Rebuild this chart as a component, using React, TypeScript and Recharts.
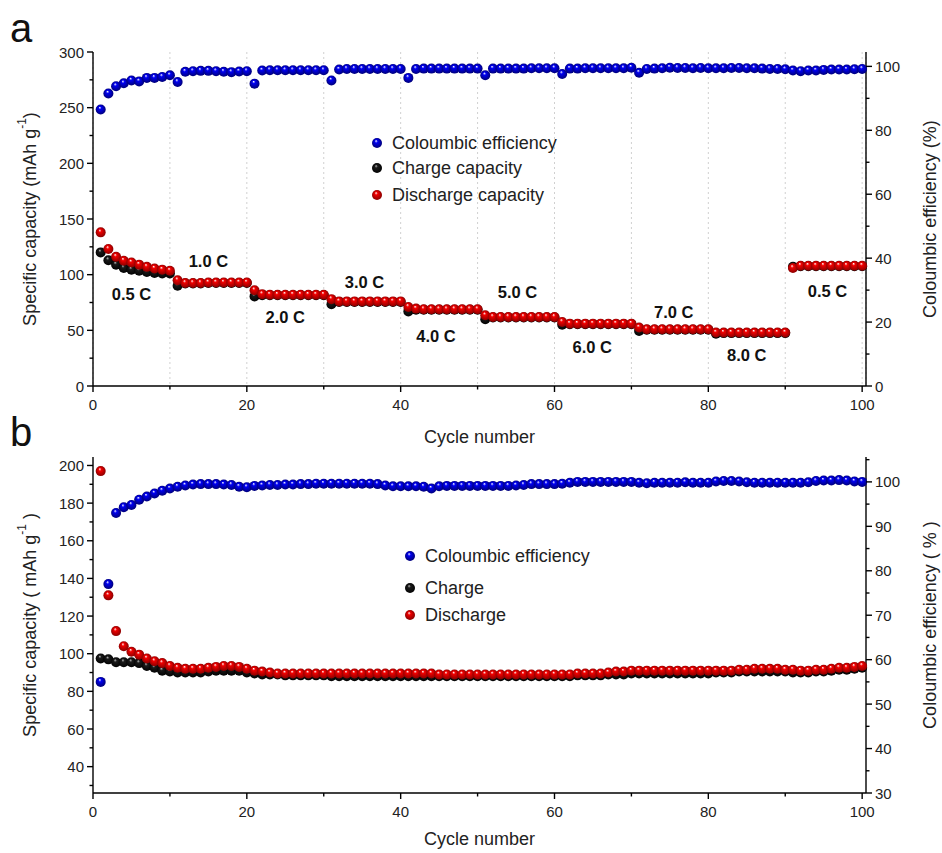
import React from 'react';
import { ScatterChart, Scatter, XAxis, YAxis, CartesianGrid, Label } from 'recharts';

// cycle numbers 1..100
const cycles = Array.from({ length: 100 }, (_, i) => i + 1);

// panel a - rate capability
const chargeA = [
  120, 113, 109, 106, 104.5, 103.5, 102.5, 101.5, 101, 101,
  90, 92, 92, 92, 92.5, 92.5, 92.5, 92.5, 92.5, 92.5,
  80.5, 81.5, 81.5, 81.5, 81.5, 81.5, 81.5, 81.5, 81.5, 81.5,
  73.5, 75.5, 75.5, 75.5, 75.5, 75.5, 75.5, 75.5, 75.5, 75.5,
  67, 68.5, 68.5, 68.5, 68.5, 68.5, 68.5, 68.5, 68.5, 68.5,
  60, 61.5, 61.5, 61.5, 61.5, 61.5, 61.5, 61.5, 61.5, 61.5,
  55, 55.5, 55.5, 55.5, 55.5, 55.5, 55.5, 55.5, 55.5, 55.5,
  49.5, 50.5, 50.5, 50.5, 50.5, 50.5, 50.5, 50.5, 50.5, 50.5,
  47, 47.5, 47.5, 47.5, 47.5, 47.5, 47.5, 47.5, 47.5, 47.5,
  107, 107.5, 107.5, 107.5, 107.5, 107.5, 107.5, 107.5, 107.5, 107.5,
];
const dischargeA = [
  138, 123, 116, 112.5, 111, 109, 107, 105.5, 104.5, 103.5,
  95, 92.5, 92.5, 92.5, 93, 93, 93, 93, 93, 93,
  86, 82.5, 82, 82, 82, 82, 82, 82, 82, 82,
  78, 76, 76, 76, 76, 76, 76, 76, 76, 76,
  71, 69.5, 69, 69, 69, 69, 69, 69, 69, 69,
  63.5, 62, 62, 62, 62, 62, 62, 62, 62, 62,
  57.5, 56, 56, 56, 56, 56, 56, 56, 56, 56,
  52.5, 51, 51, 51, 51, 51, 51, 51, 51, 51,
  48, 48, 48, 48, 48, 48, 48, 48, 48, 48,
  106, 108, 108, 108, 108, 108, 108, 108, 108, 108,
];
const ceA = [
  86.5, 91.5, 93.8, 94.7, 95.6, 95.3, 96.4, 96.4, 96.7, 97.2,
  95.1, 98.3, 98.5, 98.6, 98.6, 98.5, 98.3, 98.2, 98.4, 98.5,
  94.6, 98.7, 98.8, 98.8, 98.8, 98.8, 98.8, 98.8, 98.8, 98.8,
  95.6, 99.0, 99.2, 99.2, 99.2, 99.2, 99.2, 99.2, 99.2, 99.2,
  96.4, 99.2, 99.3, 99.3, 99.3, 99.3, 99.3, 99.3, 99.3, 99.3,
  97.2, 99.3, 99.3, 99.3, 99.3, 99.3, 99.4, 99.4, 99.4, 99.4,
  97.6, 99.3, 99.3, 99.4, 99.4, 99.4, 99.4, 99.4, 99.4, 99.6,
  98.0, 99.2, 99.3, 99.4, 99.6, 99.5, 99.5, 99.4, 99.5, 99.4,
  99.4, 99.4, 99.5, 99.5, 99.4, 99.4, 99.3, 99.2, 99.2, 99.1,
  98.7, 98.5, 98.7, 98.7, 98.9, 99.0, 99.0, 99.0, 99.1, 99.2,
];
const rateLabels = [
  { cycle: 5, cap: 83, text: '0.5 C' },
  { cycle: 15, cap: 112, text: '1.0 C' },
  { cycle: 25, cap: 62, text: '2.0 C' },
  { cycle: 35.3, cap: 93, text: '3.0 C' },
  { cycle: 44.6, cap: 44.5, text: '4.0 C' },
  { cycle: 55.2, cap: 84, text: '5.0 C' },
  { cycle: 64.9, cap: 35, text: '6.0 C' },
  { cycle: 75.5, cap: 66.5, text: '7.0 C' },
  { cycle: 85, cap: 28, text: '8.0 C' },
  { cycle: 95.5, cap: 85, text: '0.5 C' },
];

// panel b - long cycling
const chargeB = [
  97.5, 97, 95.5, 95.5, 95.5, 95, 93.5, 92.5, 91, 90.5,
  90, 90, 90, 90, 90.5, 91, 91, 91, 91, 90,
  89.5, 89, 89, 89, 88.5, 88.5, 88.5, 88.5, 88.5, 88.5,
  88, 88, 88, 88, 88, 88, 88, 88, 88, 88,
  88, 88, 88, 88, 88, 88, 88, 88, 88, 88,
  88, 88, 88, 88, 88, 88, 88, 88, 88, 88,
  88, 88, 88.5, 88.5, 88.5, 88.5, 89, 89, 89, 89.5,
  89.5, 89.5, 89.5, 89.5, 89.5, 89.5, 89.5, 89.5, 89.5, 89.5,
  90, 90, 90, 90.5, 90.5, 90.5, 90.5, 90.5, 90.5, 90.5,
  90, 90, 90, 90.5, 90.5, 91, 91.5, 91.5, 92, 92.5,
];
const dischargeB = [
  197, 131, 112, 104, 101, 99.5, 97.5, 96, 95, 93.5,
  92.5, 92, 92, 92, 92.5, 93, 93.5, 93.5, 93, 92,
  91, 90.5, 90, 89.5, 89.5, 89.5, 89.5, 89.5, 89.5, 89.5,
  89.5, 89.5, 89.5, 89.5, 89.5, 89.5, 89.5, 89.5, 89.5, 89.5,
  89.5, 89.5, 89.5, 89.5, 89, 89, 89, 89, 89, 89,
  89, 89, 89, 89, 89, 89, 89, 89, 89, 89,
  89, 89, 89.5, 89.5, 89.5, 89.5, 90, 90.5, 90.5, 91,
  91, 91, 91, 91, 91, 91, 91, 91, 91, 91,
  91, 91, 91, 91.5, 91.5, 92, 92, 92, 92, 91.5,
  91.5, 91, 91, 91.5, 91.5, 92, 92.5, 92.5, 93, 93.5,
];
const ceB = [
  55, 77, 93, 94.3, 94.8, 96, 96.7, 97.4, 98, 98.5,
  98.9, 99.2, 99.4, 99.5, 99.5, 99.5, 99.4, 99.3, 98.9, 98.8,
  99.1, 99.2, 99.3, 99.3, 99.4, 99.4, 99.5, 99.5, 99.6, 99.6,
  99.6, 99.6, 99.6, 99.6, 99.6, 99.6, 99.5, 99.2, 99.0, 99.0,
  99.0, 99.0, 98.9, 98.5, 99.0, 99.1, 99.1, 99.1, 99.1, 99.1,
  99.1, 99.1, 99.1, 99.1, 99.2, 99.3, 99.5, 99.5, 99.5, 99.5,
  99.6, 99.8, 100, 100, 100, 100, 100, 100, 100, 100,
  99.8, 99.7, 99.8, 99.8, 99.8, 99.8, 99.9, 99.8, 99.8, 99.8,
  100.1, 100.2, 100.2, 100.1, 99.9, 99.8, 99.8, 99.8, 99.8, 99.8,
  99.8, 99.8, 99.9, 100.2, 100.3, 100.3, 100.4, 100.3, 100.1, 100,
];

const xTicks = [0, 10, 20, 30, 40, 50, 60, 70, 80, 90, 100];
const capTicksA = [0, 25, 50, 75, 100, 125, 150, 175, 200, 225, 250, 275, 300];
const ceTicksA = [0, 10, 20, 30, 40, 50, 60, 70, 80, 90, 100];
const capTicksB = [30, 40, 50, 60, 70, 80, 90, 100, 110, 120, 130, 140, 150, 160, 170, 180, 190, 200];
const ceTicksB = [30, 35, 40, 45, 50, 55, 60, 65, 70, 75, 80, 85, 90, 95, 100, 105];

const FONT = '"Liberation Sans", Arial, sans-serif';

const BALLS = [
  { id: 'blue', light: '#ffffff', base: '#0000f0', dark: '#00006e' },
  { id: 'red', light: '#ffffff', base: '#f00000', dark: '#800000' },
  { id: 'black', light: '#c0c0c0', base: '#1a1a1a', dark: '#000000' },
];

const toPoints = (vals: number[]) => vals.map((v, i) => ({ x: cycles[i], y: v }));

const ball = (id: string) => (p: any) =>
  <circle cx={p.cx} cy={p.cy} r={5} fill={`url(#ball-${id})`} />;

const rateText = (p: any) => (
  <text x={p.cx} y={p.cy} textAnchor="middle" dominantBaseline="central"
    fontFamily={FONT} fontWeight="bold" fontSize={16.5} fill="#111">
    {p.payload.text}
  </text>
);

// ticks drawn by hand so minor ticks are shorter and unlabelled
const axisTick = (side: 'left' | 'right' | 'bottom', every: number) => (p: any) => {
  const v = p.payload.value;
  const major = Math.abs(v / every - Math.round(v / every)) < 1e-6;
  const len = major ? 6 : 3.5;
  const lbl = major ? String(v) : '';
  if (side === 'bottom') {
    return (
      <g>
        <line x1={p.x} x2={p.x} y1={p.y} y2={p.y + len} stroke="#000" strokeWidth={1.4} />
        <text x={p.x} y={p.y + 24} textAnchor="middle" fontFamily={FONT} fontSize={15} fill="#222">{lbl}</text>
      </g>
    );
  }
  const s = side === 'left' ? -1 : 1;
  return (
    <g>
      <line x1={p.x} x2={p.x + s * len} y1={p.y} y2={p.y} stroke="#000" strokeWidth={1.4} />
      <text x={p.x + s * 9} y={p.y} textAnchor={side === 'left' ? 'end' : 'start'}
        dominantBaseline="central" fontFamily={FONT} fontSize={15} fill="#222">{lbl}</text>
    </g>
  );
};

const vTitle = (dx: number, parts: React.ReactNode) => (p: any) => {
  const vb = p.viewBox;
  const x = vb.x + dx;
  const y = vb.y + vb.height / 2;
  return (
    <text x={x} y={y} transform={`rotate(-90 ${x} ${y})`} textAnchor="middle"
      dominantBaseline="central" fontFamily={FONT} fontSize={18} fill="#222">
      {parts}
    </text>
  );
};

const xTitle = (dy: number) => (p: any) => {
  const vb = p.viewBox;
  return (
    <text x={vb.x + vb.width / 2} y={vb.y + dy} textAnchor="middle"
      fontFamily={FONT} fontSize={18} fill="#222">Cycle number</text>
  );
};

const capTitle = (spaced: boolean) => (
  <>
    <tspan>{spaced ? 'Specific capacity ( mAh g' : 'Specific capacity (mAh g'}</tspan>
    <tspan dy={-8} fontSize={12}>-1</tspan>
    <tspan dy={8}>{spaced ? ' )' : ')'}</tspan>
  </>
);

const LegendBox = ({ left, top, gap, items }: { left: number; top: number; gap: number[]; items: { id: string; name: string }[] }) => (
  <div style={{ position: 'absolute', left, top, fontFamily: FONT, fontSize: 18, color: '#222' }}>
    {items.map((it, i) => (
      <div key={it.name} style={{ position: 'absolute', top: gap[i], left: 0, whiteSpace: 'nowrap', display: 'flex', alignItems: 'center' }}>
        <svg width={12} height={12} style={{ marginRight: 9 }}>
          <circle cx={6} cy={6} r={5} fill={`url(#ball-${it.id})`} />
        </svg>
        <span style={{ lineHeight: '20px' }}>{it.name}</span>
      </div>
    ))}
  </div>
);

const axisLine = { stroke: '#000', strokeWidth: 1.4 };

export default function App() {
  const blueA = toPoints(ceA);
  const blackA = toPoints(chargeA);
  const redA = toPoints(dischargeA);
  const labelsA = rateLabels.map((r) => ({ x: r.cycle, y: r.cap, text: r.text }));
  const blueB = toPoints(ceB);
  const blackB = toPoints(chargeB);
  const redB = toPoints(dischargeB);

  return (
    <div style={{ position: 'absolute', left: 0, top: 0, width: 942, height: 853, background: '#fff', overflow: 'hidden' }}>
      <svg width={0} height={0} style={{ position: 'absolute' }}>
        <defs>
          {BALLS.map((b) => (
            <radialGradient key={b.id} id={`ball-${b.id}`} cx="50%" cy="50%" r="55%" fx="40%" fy="28%">
              <stop offset="0%" stopColor={b.light} />
              <stop offset="28%" stopColor={b.base} />
              <stop offset="100%" stopColor={b.dark} />
            </radialGradient>
          ))}
        </defs>
      </svg>

      {/* panel a */}
      <div style={{ position: 'absolute', left: 0, top: 0 }}>
        <ScatterChart width={942} height={452} margin={{ top: 52, right: 0, bottom: 0, left: 0 }}>
          <CartesianGrid horizontal={false} stroke="#d0d0d0" strokeDasharray="2 3" xAxisId="x" yAxisId="cap" />
          <XAxis xAxisId="x" dataKey="x" type="number" domain={[0, 100.5]} ticks={xTicks} height={66}
            axisLine={axisLine} tickLine={false} tickSize={0} tickMargin={0} tick={axisTick('bottom', 20)} interval={0}>
            <Label content={xTitle(57)} />
          </XAxis>
          <XAxis xAxisId="top" orientation="top" type="number" domain={[0, 100.5]} height={0} tick={false} tickLine={false} axisLine={axisLine} />
          <YAxis yAxisId="cap" dataKey="y" type="number" domain={[0, 300]} ticks={capTicksA} width={93}
            axisLine={axisLine} tickLine={false} tickSize={0} tickMargin={0} tick={axisTick('left', 50)} interval={0}>
            <Label content={vTitle(30, capTitle(false))} />
          </YAxis>
          <YAxis yAxisId="ce" orientation="right" dataKey="y" type="number" domain={[0, 104.5]} ticks={ceTicksA} width={76}
            axisLine={axisLine} tickLine={false} tickSize={0} tickMargin={0} tick={axisTick('right', 20)} interval={0}>
            <Label content={vTitle(64, 'Coloumbic efficiency (%)')} />
          </YAxis>
          <Scatter name="Coloumbic efficiency" data={blueA} xAxisId="x" yAxisId="ce" shape={ball('blue')} isAnimationActive={false} />
          <Scatter name="Charge capacity" data={blackA} xAxisId="x" yAxisId="cap" shape={ball('black')} isAnimationActive={false} />
          <Scatter name="Discharge capacity" data={redA} xAxisId="x" yAxisId="cap" shape={ball('red')} isAnimationActive={false} />
          <Scatter name="rates" data={labelsA} xAxisId="x" yAxisId="cap" shape={rateText} isAnimationActive={false} />
        </ScatterChart>
      </div>

      {/* panel b */}
      <div style={{ position: 'absolute', left: 0, top: 440 }}>
        <ScatterChart width={942} height={413} margin={{ top: 17, right: 0, bottom: 0, left: 0 }}>
          <XAxis xAxisId="x" dataKey="x" type="number" domain={[0, 100.5]} ticks={xTicks} height={60}
            axisLine={axisLine} tickLine={false} tickSize={0} tickMargin={0} tick={axisTick('bottom', 20)} interval={0}>
            <Label content={xTitle(52)} />
          </XAxis>
          <XAxis xAxisId="top" orientation="top" type="number" domain={[0, 100.5]} height={0} tick={false} tickLine={false} axisLine={axisLine} />
          <YAxis yAxisId="cap" dataKey="y" type="number" domain={[26, 204.5]} ticks={capTicksB} width={93}
            axisLine={axisLine} tickLine={false} tickSize={0} tickMargin={0} tick={axisTick('left', 20)} interval={0}>
            <Label content={vTitle(30, capTitle(true))} />
          </YAxis>
          <YAxis yAxisId="ce" orientation="right" dataKey="y" type="number" domain={[30, 105.6]} ticks={ceTicksB} width={76}
            axisLine={axisLine} tickLine={false} tickSize={0} tickMargin={0} tick={axisTick('right', 10)} interval={0}>
            <Label content={vTitle(64, 'Coloumbic efficiency ( % )')} />
          </YAxis>
          <Scatter name="Coloumbic efficiency" data={blueB} xAxisId="x" yAxisId="ce" shape={ball('blue')} isAnimationActive={false} />
          <Scatter name="Charge" data={blackB} xAxisId="x" yAxisId="cap" shape={ball('black')} isAnimationActive={false} />
          <Scatter name="Discharge" data={redB} xAxisId="x" yAxisId="cap" shape={ball('red')} isAnimationActive={false} />
        </ScatterChart>
      </div>

      <LegendBox left={371} top={133} gap={[0, 25, 52]}
        items={[{ id: 'blue', name: 'Coloumbic efficiency' }, { id: 'black', name: 'Charge capacity' }, { id: 'red', name: 'Discharge capacity' }]} />
      <LegendBox left={404} top={546} gap={[0, 32, 59]}
        items={[{ id: 'blue', name: 'Coloumbic efficiency' }, { id: 'black', name: 'Charge' }, { id: 'red', name: 'Discharge' }]} />

      <div style={{ position: 'absolute', left: 10, top: 6, fontFamily: FONT, fontSize: 40, lineHeight: '44px', color: '#111' }}>a</div>
      <div style={{ position: 'absolute', left: 10, top: 410, fontFamily: FONT, fontSize: 40, lineHeight: '44px', color: '#111' }}>b</div>
    </div>
  );
}
